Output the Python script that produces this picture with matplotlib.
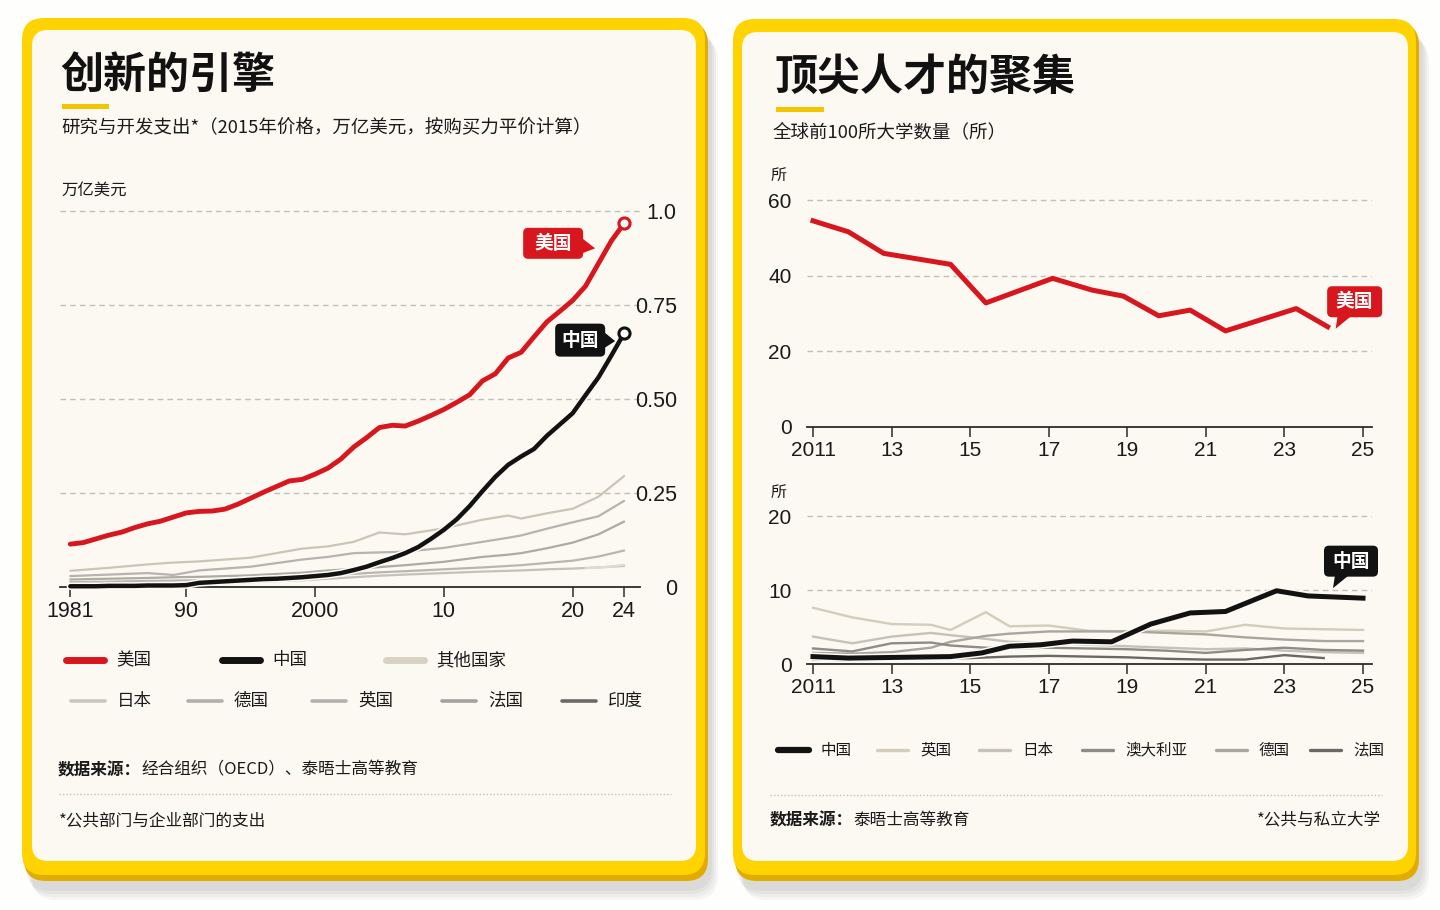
"""
plot.py
=======
Two yellow "cards": R&D spending since 1981 (left) and the number of
top-100 universities by country (right).

Output:
    out.png  (1440 x 910 px)
"""

import matplotlib
matplotlib.use("Agg")
import matplotlib.pyplot as plt
from matplotlib.patches import FancyBboxPatch, Polygon, Rectangle
from matplotlib import patheffects as pe

# ──────────────────────────────────────────────
# Data: R&D spending, trillion $ (2015 prices, PPP)
# ──────────────────────────────────────────────
rd_years = list(range(1981, 2025))
rd_us = [0.114, 0.118, 0.128, 0.138, 0.146, 0.158, 0.168, 0.175, 0.186, 0.197,
         0.201, 0.202, 0.207, 0.220, 0.236, 0.252, 0.267, 0.282, 0.286, 0.300,
         0.316, 0.340, 0.372, 0.397, 0.424, 0.430, 0.428, 0.441, 0.456, 0.472,
         0.491, 0.511, 0.548, 0.567, 0.609, 0.624, 0.665, 0.705, 0.733, 0.762,
         0.800, 0.860, 0.920, 0.967]
rd_china = [0.002, 0.002, 0.002, 0.003, 0.003, 0.003, 0.004, 0.004, 0.004, 0.005,
            0.011, 0.013, 0.015, 0.017, 0.019, 0.021, 0.022, 0.024, 0.026, 0.029,
            0.032, 0.037, 0.045, 0.054, 0.066, 0.077, 0.090, 0.106, 0.128, 0.152,
            0.180, 0.215, 0.255, 0.293, 0.325, 0.347, 0.367, 0.402, 0.432, 0.462,
            0.510, 0.557, 0.615, 0.675]

rd_other_years = [1981, 1984, 1987, 1989, 1991, 1995, 1999, 2001, 2003, 2005,
                  2007, 2010, 2013, 2015, 2016, 2018, 2020, 2022, 2024]
rd_other = [0.043, 0.051, 0.060, 0.065, 0.068, 0.078, 0.102, 0.108, 0.120, 0.145,
            0.140, 0.156, 0.179, 0.190, 0.182, 0.196, 0.208, 0.240, 0.295]
rd_japan = [0.029, 0.033, 0.037, 0.032, 0.044, 0.054, 0.073, 0.080, 0.090, 0.092,
            0.094, 0.104, 0.120, 0.131, 0.137, 0.155, 0.172, 0.188, 0.229]
rd_germany = [0.020, 0.022, 0.024, 0.026, 0.027, 0.031, 0.038, 0.044, 0.048, 0.053,
              0.058, 0.067, 0.080, 0.086, 0.090, 0.103, 0.118, 0.140, 0.174]
rd_britain = [0.013, 0.014, 0.016, 0.017, 0.018, 0.021, 0.027, 0.031, 0.035, 0.039,
              0.042, 0.047, 0.052, 0.056, 0.058, 0.064, 0.070, 0.081, 0.097]
rd_india = [0.006, 0.007, 0.008, 0.009, 0.010, 0.013, 0.018, 0.022, 0.026, 0.030,
            0.033, 0.037, 0.041, 0.043, 0.044, 0.047, 0.049, 0.052, 0.056]
rd_france_years = [2021, 2022, 2023, 2024]
rd_france = [0.050, 0.052, 0.054, 0.059]

rd_xticks = [1981, 1990, 2000, 2010, 2020, 2024]
rd_xticklabels = ["1981", "90", "2000", "10", "20", "24"]
rd_yticks = [0, 0.25, 0.5, 0.75, 1.0]
rd_yticklabels = ["0", "0.25", "0.50", "0.75", "1.0"]

# ──────────────────────────────────────────────
# Data: universities in the global top 100
# ──────────────────────────────────────────────
uni_us_x = [2011.0, 2011.9, 2012.8, 2014.5, 2015.4, 2017.1, 2018.1, 2018.9,
            2019.8, 2020.6, 2021.5, 2023.3, 2024.1]
uni_us = [54.5, 51.6, 45.9, 43.0, 32.8, 39.3, 36.2, 34.6, 29.4, 30.9, 25.4, 31.3, 26.5]

uni_cn_x = [2011.0, 2011.9, 2014.5, 2015.3, 2016.0, 2016.8, 2017.6, 2018.6,
            2019.6, 2020.6, 2021.5, 2022.8, 2023.6, 2025.0]
uni_cn = [1.0, 0.8, 1.0, 1.5, 2.4, 2.6, 3.1, 3.0, 5.4, 6.9, 7.1, 9.9, 9.2, 8.9]

uni_x = [2011, 2012, 2013, 2014, 2014.5, 2015.4, 2016, 2017, 2018, 2019,
         2020, 2021, 2022, 2023, 2024, 2025]
uni_britain = [7.6, 6.3, 5.4, 5.3, 4.6, 7.0, 5.1, 5.2, 4.5, 4.4, 4.5, 4.4, 5.3, 4.8, 4.7, 4.6]
uni_japan = [3.7, 2.8, 3.7, 4.2, 3.9, 3.4, 3.0, 2.9, 2.6, 2.4, 2.2, 2.0, 2.1, 1.8, 1.6, 1.5]
uni_australia = [2.1, 1.7, 2.8, 2.9, 2.5, 2.2, 2.1, 2.2, 2.1, 2.0, 1.8, 1.5, 1.9, 2.2, 1.9, 1.8]
uni_germany = [1.5, 1.4, 1.6, 2.2, 3.0, 3.8, 4.1, 4.4, 4.4, 4.4, 4.2, 4.0, 3.6, 3.3, 3.1, 3.1]
uni_france_x = [2011, 2012, 2013, 2014, 2015, 2016, 2017, 2018, 2019, 2020, 2021, 2022, 2023, 2024]
uni_france = [0.6, 0.5, 0.6, 0.7, 0.8, 1.0, 1.1, 1.0, 0.9, 0.7, 0.6, 0.6, 1.2, 0.8]

uni_xticks = [2011, 2013, 2015, 2017, 2019, 2021, 2023, 2025]
uni_xticklabels = ["2011", "13", "15", "17", "19", "21", "23", "25"]
uni_top_yticks = [0, 20, 40, 60]
uni_bottom_yticks = [0, 10, 20]

# ──────────────────────────────────────────────
# Style
# ──────────────────────────────────────────────
W, H = 1440, 910
CJK = ["Noto Sans CJK SC", "DejaVu Sans"]
NUM = ["Liberation Sans Narrow", "Liberation Sans", "DejaVu Sans"]
RED = "#d8161d"
BLACK = "#121212"
CREAM = "#fbf9f2"
YELLOW = "#fed300"
YELLOW_DARK = "#e2ab00"
GRID = "#c2bfb8"
TEXT = "#1a1a1a"
BODY = "medium"

plt.rcParams["font.family"] = CJK


def px_axes(fig, left, top, right, bottom):
    """Axes placed by pixel edges (y measured from the top)."""
    return fig.add_axes([left / W, 1 - bottom / H, (right - left) / W, (bottom - top) / H])


def to_bg(ax, x, y):
    """Data point of ax -> pixel coords of the background axes."""
    dx, dy = ax.transData.transform((x, y))
    return dx, H - dy


def draw_card(bg, x0, y0, x1, y1, cx0, cy0, cx1, cy1):
    # soft shadow
    for i in range(4):
        bg.add_patch(FancyBboxPatch((x0 + 4 + i * 2, y0 + 10 + i * 3), x1 - x0, y1 - y0,
                                    boxstyle="round,pad=0,rounding_size=24",
                                    fc="#000000", ec="none", alpha=0.035, zorder=0))
    bg.add_patch(FancyBboxPatch((x0 + 2, y0 + 4), x1 - x0 - 2, y1 - y0 - 4,
                                boxstyle="round,pad=0,rounding_size=22",
                                fc=YELLOW_DARK, ec="none", zorder=1))
    bg.add_patch(FancyBboxPatch((x0, y0), x1 - x0 - 3, y1 - y0 - 6,
                                boxstyle="round,pad=0,rounding_size=22",
                                fc=YELLOW, ec="none", zorder=2))
    bg.add_patch(FancyBboxPatch((cx0, cy0), cx1 - cx0, cy1 - cy0,
                                boxstyle="round,pad=0,rounding_size=16",
                                fc=CREAM, ec="none", zorder=3))


def callout(bg, cx, cy, w, h, text, color, tri):
    bg.add_patch(FancyBboxPatch((cx - w / 2, cy - h / 2), w, h,
                                boxstyle="round,pad=0,rounding_size=5",
                                fc=color, ec="none", zorder=20))
    bg.add_patch(Polygon([(cx + a, cy + b) for a, b in tri], closed=True,
                         fc=color, ec="none", zorder=20))
    bg.text(cx, cy, text, ha="center", va="center", color="white",
            fontsize=13.5, fontweight="bold", zorder=21)


def style_ticks(ax):
    for lbl in ax.get_xticklabels() + ax.get_yticklabels():
        lbl.set_fontfamily(NUM)
        lbl.set_color(TEXT)


def outline(lw):
    return [pe.Stroke(linewidth=lw + 2.2, foreground=CREAM), pe.Normal()]


# ──────────────────────────────────────────────
# Figure + cards
# ──────────────────────────────────────────────
fig = plt.figure(figsize=(W / 100, H / 100), dpi=100)
fig.patch.set_facecolor("#fefefc")
bg = fig.add_axes([0, 0, 1, 1])
bg.set_xlim(0, W)
bg.set_ylim(H, 0)
bg.axis("off")

draw_card(bg, 22, 18, 708, 881, 32, 30, 696, 861)
draw_card(bg, 733, 19, 1419, 881, 742, 32, 1408, 861)

# ── Left card texts ───────────────────────────
bg.text(60, 75, "创新的引擎", fontsize=31, fontweight="heavy", color="#111", va="center", zorder=5)
bg.add_patch(Rectangle((62, 104), 47, 5, fc="#f5c400", ec="none", zorder=5))
bg.text(61, 128, "研究与开发支出*（2015年价格，万亿美元，按购买力平价计算）",
        fontsize=13.3, fontweight=BODY, color=TEXT, va="center", zorder=5)
bg.text(61, 191, "万亿美元", fontsize=11.8, fontweight=BODY, color=TEXT, va="center", zorder=5)

# ── Right card texts ──────────────────────────
bg.text(774, 77, "顶尖人才的聚集", fontsize=31, fontweight="heavy", color="#111", va="center", zorder=5)
bg.add_patch(Rectangle((776, 107), 48, 5, fc="#f5c400", ec="none", zorder=5))
bg.text(773, 132, "全球前100所大学数量（所）", fontsize=13.3, fontweight=BODY, color=TEXT,
        va="center", zorder=5)
bg.text(771, 175, "所", fontsize=11.5, fontweight=BODY, color=TEXT, va="center", zorder=5)
bg.text(771, 492, "所", fontsize=11.5, fontweight=BODY, color=TEXT, va="center", zorder=5)

# ──────────────────────────────────────────────
# Left chart: R&D spending
# ──────────────────────────────────────────────
ax = px_axes(fig, 60, 200, 640, 587)
ax.set_facecolor("none")
ax.set_xlim(1980.2, 2025.23)
ax.set_ylim(0, 1.029)
for s in ["top", "left", "right"]:
    ax.spines[s].set_visible(False)
ax.spines["bottom"].set_color("#2b2b2b")
ax.spines["bottom"].set_linewidth(1.3)
ax.set_xticks(rd_xticks, rd_xticklabels)
ax.tick_params(axis="x", length=7, width=1.1, color="#2b2b2b", pad=3, labelsize=15.5)
ax.yaxis.tick_right()
ax.set_yticks(rd_yticks, rd_yticklabels)
ax.tick_params(axis="y", length=0, pad=26.5, labelsize=15.5)
for lbl in ax.get_yticklabels():
    lbl.set_horizontalalignment("right")
style_ticks(ax)
for v in rd_yticks[1:]:
    ax.axhline(v, color=GRID, lw=1, ls=(0, (4, 3)), zorder=0)

rd_grey = [
    (rd_other_years, rd_other, "#cbc5b5"),
    (rd_other_years, rd_japan, "#b7b4ad"),
    (rd_other_years, rd_germany, "#aeaba5"),
    (rd_other_years, rd_britain, "#b9b6b0"),
    (rd_other_years, rd_india, "#c4c1bb"),
    (rd_france_years, rd_france, "#dedbd5"),
]
for xs, ys, c in rd_grey:
    ax.plot(xs, ys, color=c, lw=1.6, zorder=2, solid_capstyle="round")
ax.plot(rd_years, rd_china, color=BLACK, lw=3.2, zorder=4, path_effects=outline(3.2),
        solid_capstyle="round", clip_on=False)
ax.plot(rd_years, rd_us, color=RED, lw=3.5, zorder=5, path_effects=outline(3.5),
        solid_capstyle="round")
ax.plot(rd_years[-1], rd_us[-1], "o", ms=8, mfc="white", mec=RED, mew=2.2, zorder=7, clip_on=False)
ax.plot(rd_years[-1], rd_china[-1], "o", ms=8, mfc="white", mec=BLACK, mew=2.2, zorder=7, clip_on=False)

ex, ey = to_bg(ax, rd_years[-1], rd_us[-1])
callout(bg, ex - 71, ey + 20, 60, 31, "美国", RED,
        [(29, -5), (42, 5), (29, 10)])
ex, ey = to_bg(ax, rd_years[-1], rd_china[-1])
callout(bg, ex - 44, ey + 7, 50, 33, "中国", BLACK,
        [(24, -8), (35, 1), (24, 8)])

# legend
legend_rows = [
    (660, 38, 5.0, [(66, "美国", RED), (222, "中国", BLACK), (386, "其他国家", "#d8d2c2")]),
    (701, 34, 2.6, [(71, "日本", "#c9c6c0"), (188, "德国", "#b2afab"), (312, "英国", "#b4b2ae"),
                    (442, "法国", "#a4a29e"), (562, "印度", "#6b6966")]),
]
for y, length, lw, items in legend_rows:
    for x, label, c in items:
        bg.plot([x, x + length], [y, y], color=c, lw=lw, solid_capstyle="round", zorder=5)
        bg.text(x + length + 12, y, label, fontsize=12.6, fontweight=BODY, color=TEXT,
                va="center", zorder=5)

renderer = fig.canvas.get_renderer()
t = bg.text(58, 770, "数据来源：", fontsize=12, fontweight="bold", color=TEXT, va="center", zorder=5)
x_end = t.get_window_extent(renderer).x1
bg.text(x_end, 770, "经合组织（OECD）、泰晤士高等教育", fontsize=12, fontweight=BODY, color=TEXT,
        va="center", zorder=5)
bg.plot([59, 671], [794, 794], color="#c3c0b8", lw=1, ls=(0, (1, 1.5)), zorder=5)
bg.text(59, 821, "*公共部门与企业部门的支出", fontsize=12, fontweight=BODY, color=TEXT,
        va="center", zorder=5)

# ──────────────────────────────────────────────
# Right charts: top-100 universities
# ──────────────────────────────────────────────
def uni_axes(top, bottom, ymax, yticks):
    a = px_axes(fig, 807, top, 1372, bottom)
    a.set_facecolor("none")
    a.set_xlim(2010.847, 2025.229)
    a.set_ylim(0, ymax)
    for s in ["top", "left", "right"]:
        a.spines[s].set_visible(False)
    a.spines["bottom"].set_color("#2b2b2b")
    a.spines["bottom"].set_linewidth(1.3)
    a.set_xticks(uni_xticks, uni_xticklabels)
    a.tick_params(axis="x", length=7, width=1.1, color="#2b2b2b", pad=3, labelsize=15)
    a.set_yticks(yticks, [str(v) for v in yticks])
    a.tick_params(axis="y", length=0, pad=11, labelsize=15)
    style_ticks(a)
    for v in yticks[1:]:
        a.axhline(v, color=GRID, lw=1, ls=(0, (4, 3)), zorder=0)
    return a


ax2 = uni_axes(188, 427, 63.18, uni_top_yticks)
ax2.plot(uni_us_x, uni_us, color=RED, lw=3.6, zorder=5, path_effects=outline(3.6))
ex, ey = to_bg(ax2, uni_us_x[-1], uni_us[-1])
callout(bg, ex + 27, ey - 25, 55, 31, "美国", RED,
        [(-17, 14), (-3, 14), (-19, 27)])

ax3 = uni_axes(505, 664, 21.49, uni_bottom_yticks)
uni_grey = [
    (uni_x, uni_britain, "#d3cdbc"),
    (uni_x, uni_japan, "#c6c2b9"),
    (uni_x, uni_germany, "#a9a6a0"),
    (uni_x, uni_australia, "#8e8c87"),
    (uni_france_x, uni_france, "#6a6865"),
]
for xs, ys, c in uni_grey:
    ax3.plot(xs, ys, color=c, lw=1.7, zorder=2)
ax3.plot(uni_cn_x, uni_cn, color=BLACK, lw=3.6, zorder=5, path_effects=outline(3.6))
ex, ey = to_bg(ax3, uni_cn_x[-1], uni_cn[-1])
callout(bg, ex - 12, ey - 37, 54, 31, "中国", BLACK,
        [(-16, 14), (-2, 14), (-18, 27)])

# legend
uni_legend = [(778, "中国", BLACK, 4.5), (877, "英国", "#d3cdbc", 2.4), (979, "日本", "#c6c2b9", 2.4),
              (1082, "澳大利亚", "#8e8c87", 2.4), (1216, "德国", "#a9a6a0", 2.4),
              (1310, "法国", "#6a6865", 2.4)]
for x, label, c, lw in uni_legend:
    bg.plot([x, x + 31], [750, 750], color=c, lw=lw, solid_capstyle="round", zorder=5)
    bg.text(x + 43, 750, label, fontsize=11.2, fontweight=BODY, color=TEXT, va="center", zorder=5)

bg.plot([770, 1382], [795, 795], color="#c3c0b8", lw=1, ls=(0, (1, 1.5)), zorder=5)
t = bg.text(770, 820, "数据来源：", fontsize=12, fontweight="bold", color=TEXT, va="center", zorder=5)
x_end = t.get_window_extent(renderer).x1
bg.text(x_end, 820, "泰晤士高等教育", fontsize=12, fontweight=BODY, color=TEXT, va="center", zorder=5)
bg.text(1381, 820, "*公共与私立大学", fontsize=12, fontweight=BODY, color=TEXT, va="center",
        ha="right", zorder=5)

fig.savefig("out.png", dpi=100, facecolor=fig.get_facecolor())
